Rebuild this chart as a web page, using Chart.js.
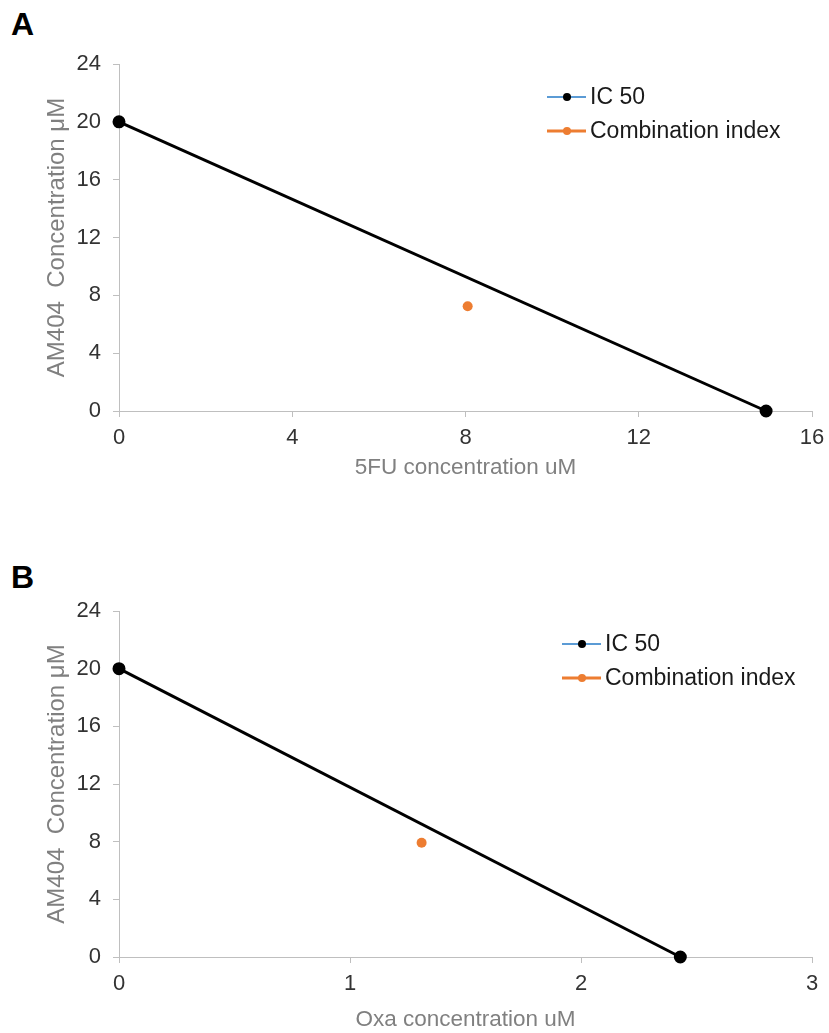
<!DOCTYPE html>
<html>
<head>
<meta charset="utf-8">
<script src="https://cdn.jsdelivr.net/npm/chart.js@4/dist/chart.umd.min.js"></script>
<style>
  html, body { margin: 0; padding: 0; background: #fff; overflow: hidden; }
  body { width: 829px; height: 1033px; position: relative; font-family: "Liberation Sans", Arial, sans-serif; }
  .panel { position: absolute; left: 11px; font-weight: bold; font-size: 32px; color: #000; }
  .box { position: absolute; left: 0; width: 829px; }
</style>
</head>
<body>
<div class="panel" style="top:6px">A</div>
<div class="panel" style="top:559px">B</div>
<div class="box" style="top:0;height:500px"><canvas id="chartA"></canvas></div>
<div class="box" style="top:547px;height:486px"><canvas id="chartB"></canvas></div>
<script>
// panel A: 5FU vs AM404
const icA_x = [0, 14.94];
const icA_y = [20, 0];
const ciA_x = [8.05];
const ciA_y = [7.25];
const ticksA_x = [0, 4, 8, 12, 16];

// panel B: Oxa vs AM404
const icB_x = [0, 2.43];
const icB_y = [20, 0];
const ciB_x = [1.31];
const ciB_y = [7.93];
const ticksB_x = [0, 1, 2, 3];

const ticks_y = [0, 4, 8, 12, 16, 20, 24];
const legendNames = ['IC 50', 'Combination index'];

const FONT = '"Liberation Sans", Arial, sans-serif';

// legend drawn inside the plot, Excel style
const insideLegend = {
  id: 'insideLegend',
  afterDraw(chart, args, opts) {
    const ctx = chart.ctx;
    ctx.save();
    ctx.font = '23px ' + FONT;
    ctx.textBaseline = 'middle';
    const rows = [
      { line: '#5B9BD5', lw: 2, dot: '#000', text: legendNames[0] },
      { line: '#ED7D31', lw: 3, dot: '#ED7D31', text: legendNames[1] },
    ];
    rows.forEach((r, i) => {
      const y = opts.y + i * 34;
      ctx.strokeStyle = r.line;
      ctx.lineWidth = r.lw;
      ctx.beginPath();
      ctx.moveTo(opts.x, y);
      ctx.lineTo(opts.x + 39, y);
      ctx.stroke();
      ctx.fillStyle = r.dot;
      ctx.beginPath();
      ctx.arc(opts.x + 20, y, 4, 0, Math.PI * 2);
      ctx.fill();
      ctx.fillStyle = '#1a1a1a';
      ctx.fillText(r.text, opts.x + 43, y + 1);
    });
    ctx.restore();
  }
};

const makeChart = (id, icX, icY, ciX, ciY, xTicks, xMax, xTitle, xAxisH, padBottom, legendX) => {
  const icData = icX.map((x, i) => ({ x: x, y: icY[i] }));
  const ciData = ciX.map((x, i) => ({ x: x, y: ciY[i] }));
  return new Chart(document.getElementById(id).getContext('2d'), {
    type: 'scatter',
    data: {
      datasets: [
        {
          label: legendNames[0],
          data: icData,
          showLine: true,
          clip: false,
          borderColor: '#000',
          borderWidth: 3,
          backgroundColor: '#000',
          pointRadius: 5,
          pointHoverRadius: 5,
          tension: 0,
        },
        {
          label: legendNames[1],
          data: ciData,
          showLine: false,
          clip: false,
          borderColor: '#ED7D31',
          backgroundColor: '#ED7D31',
          pointRadius: 5,
          pointBorderWidth: 0,
        },
      ],
    },
    options: {
      responsive: true,
      maintainAspectRatio: false,
      animation: false,
      events: [],
      layout: { padding: { left: 43, right: 17, top: 64, bottom: padBottom } },
      plugins: {
        legend: { display: false },
        tooltip: { enabled: false },
        insideLegend: { x: legendX, y: 97 },
      },
      scales: {
        x: {
          type: 'linear',
          min: 0,
          max: xMax,
          afterBuildTicks: s => { s.ticks = xTicks.map(v => ({ value: v })); },
          afterFit: s => { s.height = xAxisH; s.paddingLeft = 0; s.paddingRight = 0; },
          grid: { drawOnChartArea: false, drawTicks: true, tickLength: 6, color: '#bfbfbf' },
          border: { color: '#bfbfbf', width: 1 },
          ticks: { color: '#333', font: { family: FONT, size: 22 }, padding: 8, maxRotation: 0 },
          title: { display: true, text: xTitle, color: '#808080', font: { family: FONT, size: 22.5 }, padding: { top: 0, bottom: 0 } },
        },
        y: {
          type: 'linear',
          min: 0,
          max: 24,
          afterBuildTicks: s => { s.ticks = ticks_y.map(v => ({ value: v })); },
          afterFit: s => { s.width = 76; s.paddingTop = 0; s.paddingBottom = 0; },
          grid: { drawOnChartArea: false, drawTicks: true, tickLength: 6, color: '#bfbfbf' },
          border: { color: '#bfbfbf', width: 1 },
          ticks: { color: '#333', font: { family: FONT, size: 22 }, padding: 12 },
          title: { display: true, text: 'AM404  Concentration \u03bcM', color: '#808080', font: { family: FONT, size: 24 }, padding: { top: 0, bottom: 0 } },
        },
      },
    },
    plugins: [insideLegend],
  });
};

makeChart('chartA', icA_x, icA_y, ciA_x, ciA_y, ticksA_x, 16, '5FU concentration uM', 70, 19, 547);
makeChart('chartB', icB_x, icB_y, ciB_x, ciB_y, ticksB_x, 3, 'Oxa concentration uM', 76, 0, 562);
</script>
</body>
</html>
